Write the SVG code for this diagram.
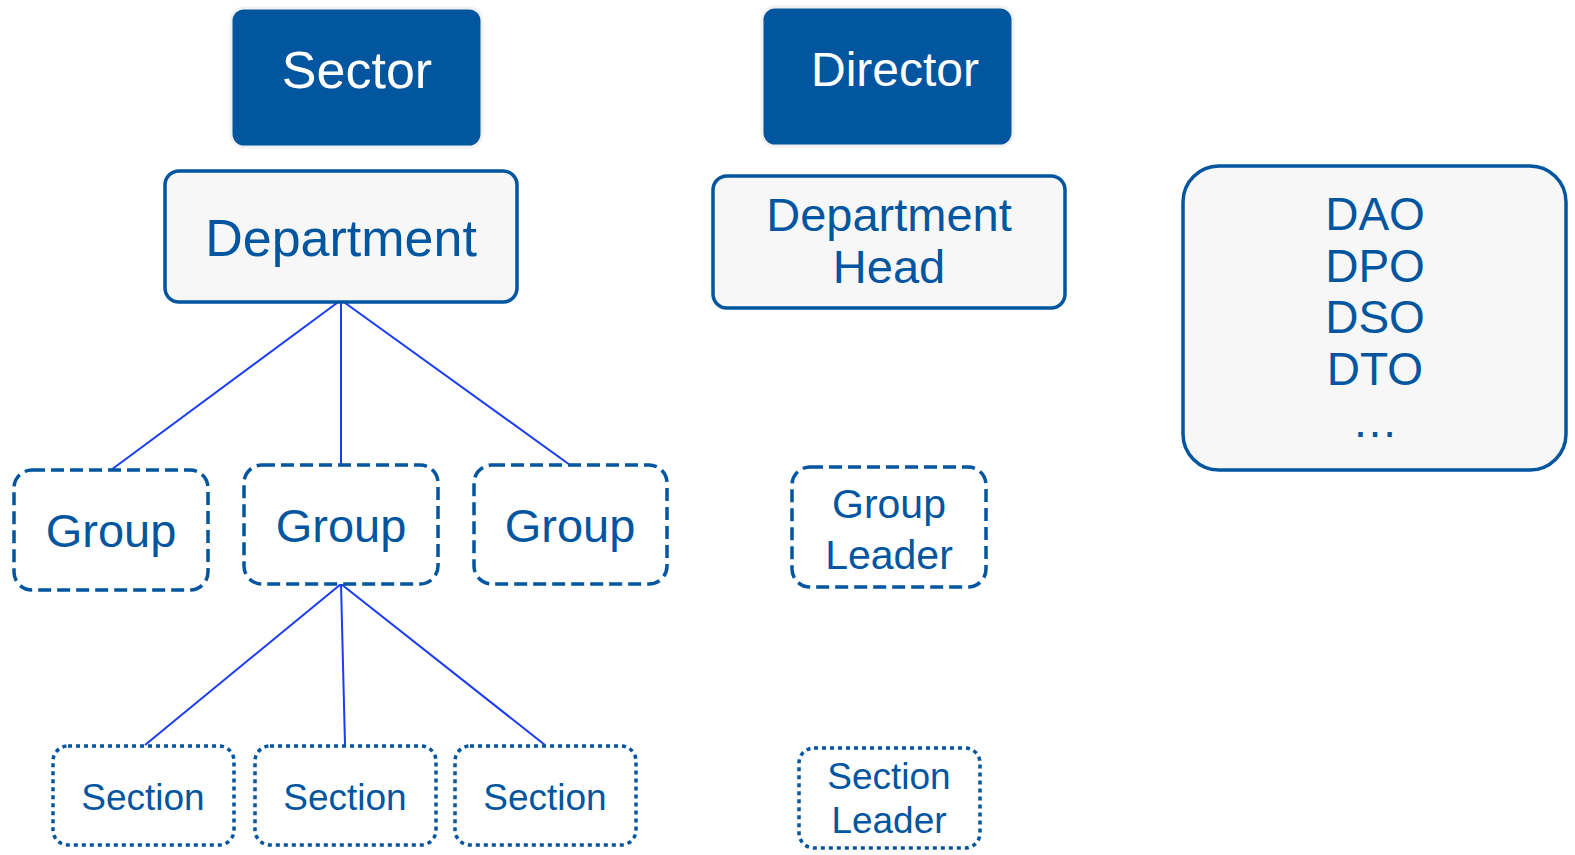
<svg xmlns="http://www.w3.org/2000/svg" width="1575" height="855" viewBox="0 0 1575 855">
<style>
text{font-family:"Liberation Sans",Arial,sans-serif;fill:#02559f;text-anchor:middle}
.dark{fill:#02559f;stroke:#f1f1f1;stroke-width:3}
.w{fill:#ffffff}
.solid{fill:#f7f7f7;stroke:#02559f;stroke-width:3.5}
.dash{fill:#ffffff;stroke:#02559f;stroke-width:3.5;stroke-dasharray:13 6}
.dot{fill:#ffffff;stroke:#02559f;stroke-width:3.5;stroke-dasharray:4 4}
.conn line{stroke:#1a3cf5;stroke-width:2}
</style>
<rect width="1575" height="855" fill="#ffffff"/>
<g class="conn" id="connectors">
<line x1="341" y1="300" x2="111" y2="470"/>
<line x1="341" y1="300" x2="341" y2="465"/>
<line x1="341" y1="300" x2="570" y2="465"/>
<line x1="341" y1="584" x2="145" y2="745"/>
<line x1="341" y1="584" x2="345" y2="745"/>
<line x1="341" y1="584" x2="545" y2="745"/>
</g>
<g id="sector"><rect class="dark" x="231" y="8" width="251" height="139" rx="13"/><text class="w" x="357" y="88" font-size="52">Sector</text></g>
<g id="director"><rect class="dark" x="762" y="7" width="251" height="139" rx="13"/><text class="w" x="895" y="86" font-size="48">Director</text></g>
<g id="department"><rect class="solid" x="165" y="171" width="352" height="131" rx="14"/><text x="341" y="256" font-size="52">Department</text></g>
<g id="department-head"><rect class="solid" x="713" y="176" width="352" height="132" rx="14"/><text x="889" y="231" font-size="47">Department</text><text x="889" y="283" font-size="47">Head</text></g>
<g id="roles"><rect class="solid" x="1183" y="166" width="383" height="304" rx="36"/>
<text x="1375" y="230" font-size="46">DAO</text>
<text x="1375" y="282" font-size="46">DPO</text>
<text x="1375" y="333" font-size="46">DSO</text>
<text x="1375" y="385" font-size="46">DTO</text>
<text x="1375" y="437" font-size="46">…</text></g>
<g id="group1"><rect class="dash" x="14" y="470" width="194" height="120" rx="18"/><text x="111" y="547" font-size="47">Group</text></g>
<g id="group2"><rect class="dash" x="244" y="465" width="194" height="119" rx="18"/><text x="341" y="542" font-size="47">Group</text></g>
<g id="group3"><rect class="dash" x="474" y="465" width="193" height="119" rx="18"/><text x="570" y="542" font-size="47">Group</text></g>
<g id="group-leader"><rect class="dash" x="792" y="467" width="194" height="120" rx="18"/><text x="889" y="518" font-size="41">Group</text><text x="889" y="569" font-size="41">Leader</text></g>
<g id="section1"><rect class="dot" x="53" y="746" width="181" height="99" rx="15"/><text x="143" y="810" font-size="37">Section</text></g>
<g id="section2"><rect class="dot" x="255" y="746" width="181" height="99" rx="15"/><text x="345" y="810" font-size="37">Section</text></g>
<g id="section3"><rect class="dot" x="455" y="746" width="181" height="99" rx="15"/><text x="545" y="810" font-size="37">Section</text></g>
<g id="section-leader"><rect class="dot" x="799" y="748" width="181" height="100" rx="15"/><text x="889" y="789" font-size="37">Section</text><text x="889" y="833" font-size="37">Leader</text></g>
</svg>
